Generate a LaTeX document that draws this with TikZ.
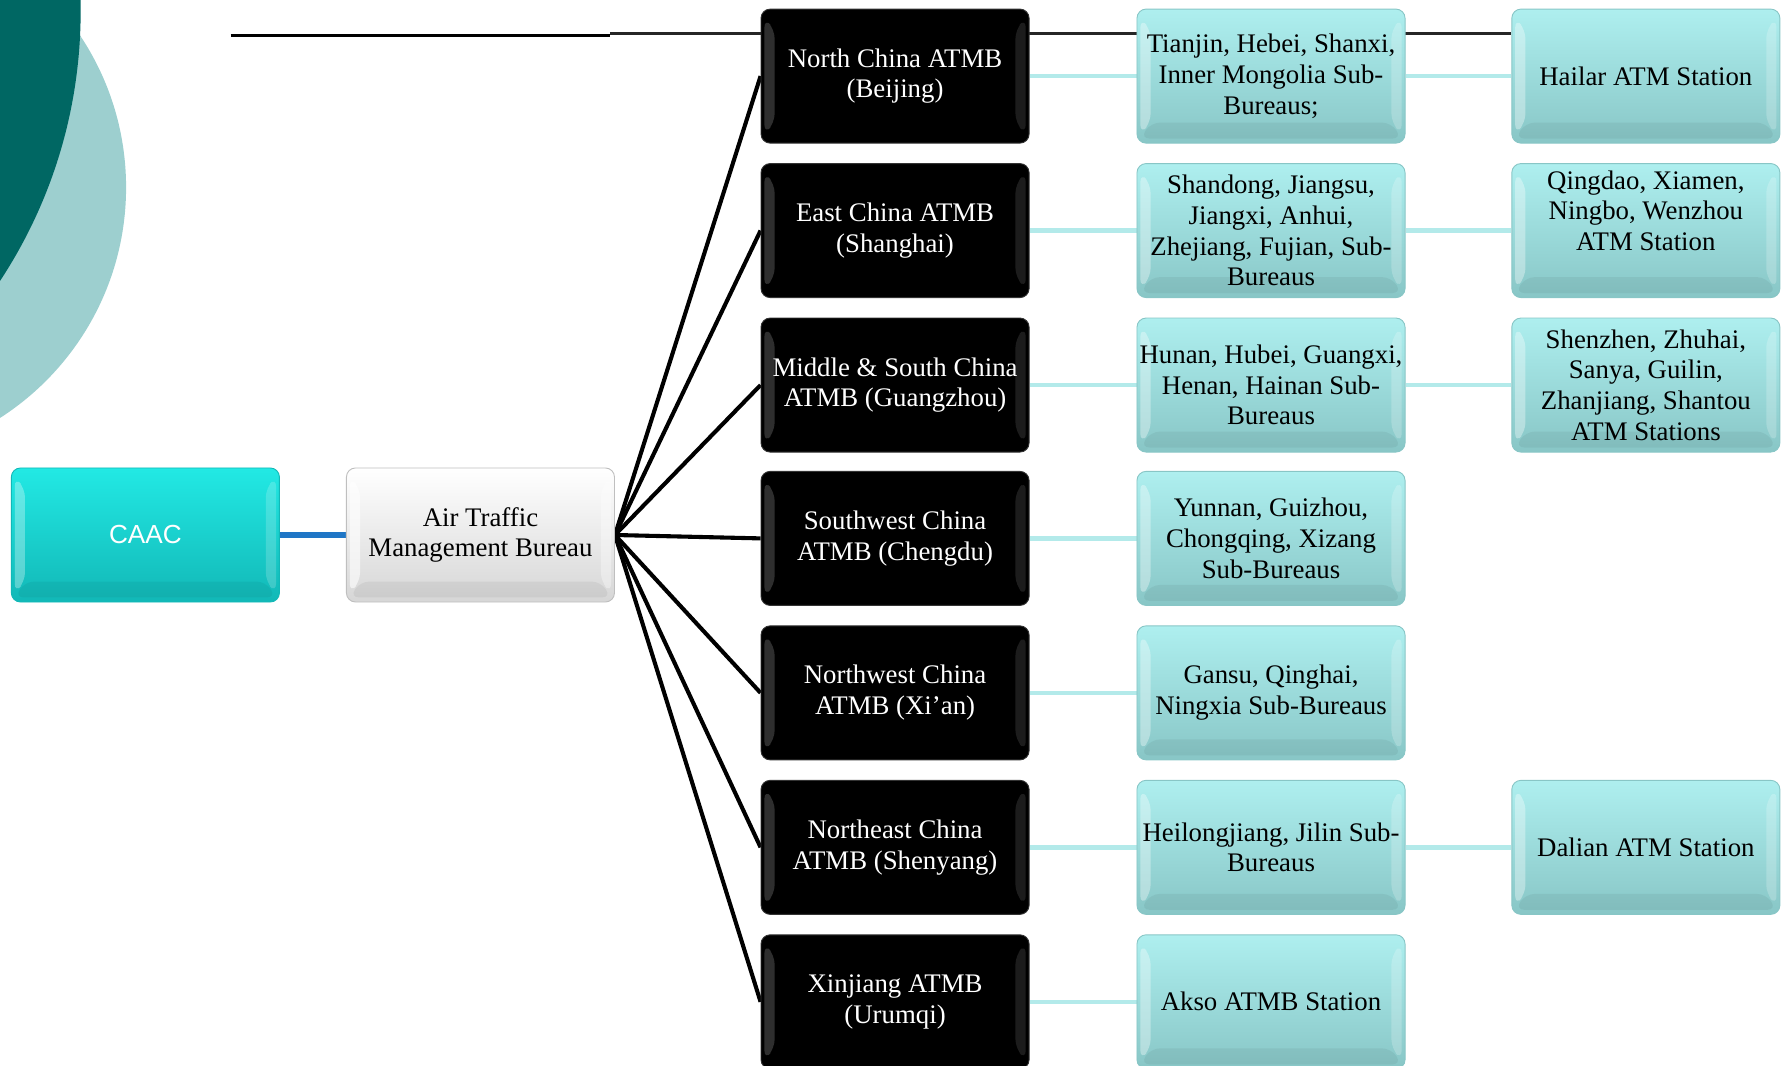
\documentclass[tikz,border=0pt]{standalone}
\usepackage{fontspec}
\setmainfont{Liberation Serif}
\setsansfont{Liberation Sans}
\pgfdeclarelayer{bg}
\pgfsetlayers{bg,main}
\definecolor{darkteal}{HTML}{006763}
\definecolor{lightteal}{HTML}{9DCFCF}
\definecolor{cyanTop}{HTML}{22E9E4}
\definecolor{cyanBot}{HTML}{12B8B7}
\definecolor{paleTop}{HTML}{AEEFEF}
\definecolor{paleBot}{HTML}{88C6C6}
\definecolor{conn}{HTML}{B3EAEA}
\definecolor{blueconn}{HTML}{1F76C6}
\tikzset{
  box/.style={rounded corners=4pt, minimum width=118pt, minimum height=59pt,
    inner sep=1pt, align=center, font=\fontsize{11.8}{13.5}\selectfont},
  bevel/.style={path picture={
    \fill[white,opacity=#1]
      ([shift={(1.5pt,-4pt)}]path picture bounding box.north west) --
      ([shift={(6pt,-9pt)}]path picture bounding box.north west) --
      ([shift={(6pt,9pt)}]path picture bounding box.south west) --
      ([shift={(1.5pt,4pt)}]path picture bounding box.south west) -- cycle;
    \fill[white,opacity=#1*0.6]
      ([shift={(-1.5pt,-4pt)}]path picture bounding box.north east) --
      ([shift={(-6pt,-9pt)}]path picture bounding box.north east) --
      ([shift={(-6pt,9pt)}]path picture bounding box.south east) --
      ([shift={(-1.5pt,4pt)}]path picture bounding box.south east) -- cycle;
    \fill[black,opacity=0.05]
      ([shift={(6pt,9pt)}]path picture bounding box.south west) --
      ([shift={(-6pt,9pt)}]path picture bounding box.south east) --
      ([shift={(-1.5pt,2pt)}]path picture bounding box.south east) --
      ([shift={(1.5pt,2pt)}]path picture bounding box.south west) -- cycle;
  }},
  bevel/.default=0.3,
  blackbox/.style={box, fill=black, draw=black!80!white, text=white, bevel=0.18},
  palebox/.style={box, top color=paleTop, bottom color=paleBot, draw=paleBot, bevel=0.35},
  caacbox/.style={box, top color=cyanTop, bottom color=cyanBot, draw=cyanBot, text=white,
    font=\sffamily\fontsize{11.5}{13.5}\selectfont, bevel=0.3},
  graybox/.style={box, top color=white, bottom color=black!16, draw=black!25, bevel=0.6},
  fan/.style={line width=1.8pt, black},
  sub/.style={line width=2pt, conn},
}
\begin{document}
\begin{tikzpicture}[x=0.5pt, y=-0.5pt]
\useasboundingbox (0,0) rectangle (1568,938);

% main nodes
\node[caacbox] (caac) at (128,471) {CAAC};
\node[graybox] (atmb) at (423,471) {Air Traffic\\Management Bureau};

\node[blackbox] (b1) at (788,67)  {North China ATMB\\(Beijing)};
\node[blackbox] (b2) at (788,203) {East China ATMB\\(Shanghai)};
\node[blackbox] (b3) at (788,339) {Middle \& South China\\ATMB (Guangzhou)};
\node[blackbox] (b4) at (788,474) {Southwest China\\ATMB (Chengdu)};
\node[blackbox] (b5) at (788,610) {Northwest China\\ATMB (Xi’an)};
\node[blackbox] (b6) at (788,746) {Northeast China\\ATMB (Shenyang)};
\node[blackbox] (b7) at (788,882) {Xinjiang ATMB\\(Urumqi)};

\node[palebox] (s1) at (1119,67)  {Tianjin, Hebei, Shanxi,\\Inner Mongolia Sub-\\Bureaus;};
\node[palebox] (s2) at (1119,203) {Shandong, Jiangsu,\\Jiangxi, Anhui,\\Zhejiang, Fujian, Sub-\\Bureaus};
\node[palebox] (s3) at (1119,339) {Hunan, Hubei, Guangxi,\\Henan, Hainan Sub-\\Bureaus};
\node[palebox] (s4) at (1119,474) {Yunnan, Guizhou,\\Chongqing, Xizang\\Sub-Bureaus};
\node[palebox] (s5) at (1119,610) {Gansu, Qinghai,\\Ningxia Sub-Bureaus};
\node[palebox] (s6) at (1119,746) {Heilongjiang, Jilin Sub-\\Bureaus};
\node[palebox] (s7) at (1119,882) {Akso ATMB Station};

\node[palebox] (t1) at (1449,67)  {Hailar ATM Station};
\node[palebox] (t2) at (1449,203) {Qingdao, Xiamen,\\Ningbo, Wenzhou\\ATM Station\\\strut};
\node[palebox] (t3) at (1449,339) {Shenzhen, Zhuhai,\\Sanya, Guilin,\\Zhanjiang, Shantou\\ATM Stations};
\node[palebox] (t6) at (1449,746) {Dalian ATM Station};

\begin{pgfonlayer}{bg}
  % background circles
  \fill[lightteal] (-130,165) circle[radius=241];
  \fill[darkteal] (-361,10) circle[radius=432];
  % top line
  \coordinate (tla) at (203,31);
  \coordinate (tlb) at (537,31);
  \coordinate (tlc) at (537,29.5);
  \draw[line width=1.5pt] (tla) -- (tlb);
  \draw[line width=1pt, black!85] (tlc) -- (tlc -| t1.west);
  % connectors
  \draw[line width=2.5pt, blueconn] (caac.east) -- (atmb.west);
  \foreach \i in {1,...,7} {
    \draw[fan] (atmb.east) -- (b\i.west);
    \draw[sub] (b\i.east) -- (s\i.west);
  }
  \foreach \i in {1,2,3,6} {
    \draw[sub] (s\i.east) -- (t\i.west);
  }
\end{pgfonlayer}
\end{tikzpicture}
\end{document}
